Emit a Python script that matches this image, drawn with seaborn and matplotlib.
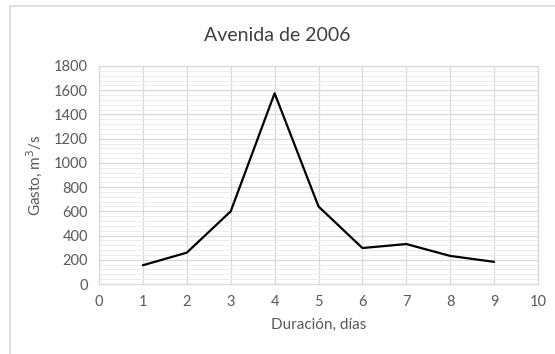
import matplotlib
matplotlib.use("Agg")
import matplotlib.pyplot as plt
import seaborn as sns
import pandas as pd
from matplotlib.ticker import MultipleLocator
from matplotlib.patches import Rectangle

# Daily discharge during the 2006 flood
dias = [1, 2, 3, 4, 5, 6, 7, 8, 9]
gasto = [155, 259, 600, 1575, 640, 297, 330, 232, 183]

titulo = "Avenida de 2006"
etiqueta_x = "Duración, días"
etiqueta_y = "Gasto, m$^3$/s"

sns.set_theme(style="white")
plt.rcParams["font.family"] = ["Lato", "DejaVu Sans"]

df = pd.DataFrame({"dias": dias, "gasto": gasto})

fig = plt.figure(figsize=(5.55, 3.54), dpi=100)
ax = fig.add_axes([0.1784, 0.1977, 0.7910, 0.6159])

sns.lineplot(data=df, x="dias", y="gasto", ax=ax, color="black", linewidth=1.6)

ax.set_xlim(0, 10)
ax.set_ylim(0, 1800)
ax.xaxis.set_major_locator(MultipleLocator(1))
ax.yaxis.set_major_locator(MultipleLocator(200))
ax.yaxis.set_minor_locator(MultipleLocator(40))

ax.grid(which="major", color="#d9d9d9", linewidth=0.9)
ax.grid(which="minor", axis="y", color="#ececec", linewidth=0.7)
ax.set_axisbelow(True)

for side in ax.spines.values():
    side.set_color("#d9d9d9")
    side.set_linewidth(0.9)

ax.tick_params(axis="both", which="both", length=0, labelsize=10.5,
               labelcolor="#595959")
ax.tick_params(axis="x", pad=8)
ax.tick_params(axis="y", pad=8)

ax.set_xlabel(etiqueta_x, fontsize=11, color="#595959", labelpad=6)
ax.set_ylabel(etiqueta_y, fontsize=11, color="#595959", labelpad=7)
fig.suptitle(titulo, x=0.5, y=0.925, fontsize=14, color="#404040")

# Chart area frame
fig.patches.append(Rectangle((10 / 555, -0.05), 1.1, 1 - 6 / 354 + 0.05,
                             transform=fig.transFigure, fill=False,
                             edgecolor="#d9d9d9", linewidth=1.2))

fig.savefig("out.png", dpi=100)
